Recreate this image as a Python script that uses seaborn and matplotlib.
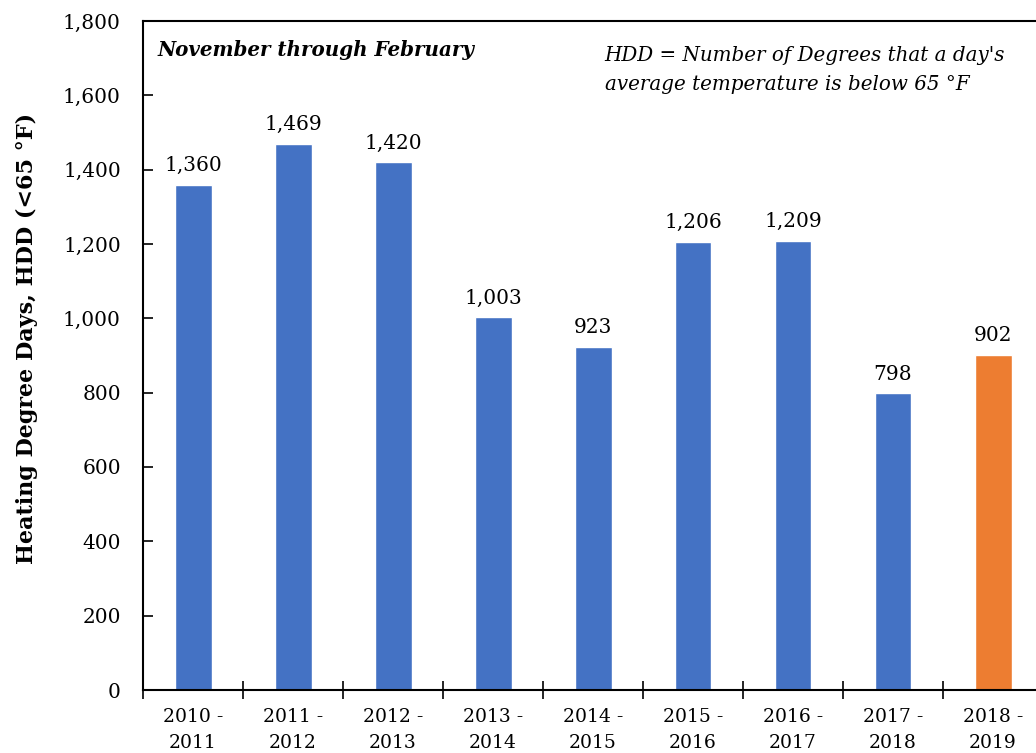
"""
heating degree days, Nov - Feb
"""
import matplotlib
matplotlib.use("Agg")
import matplotlib.pyplot as plt
import matplotlib.ticker as mticker
import seaborn as sns
import pandas as pd

# 資料
seasons = ["2010 -\n2011", "2011 -\n2012", "2012 -\n2013", "2013 -\n2014", "2014 -\n2015",
           "2015 -\n2016", "2016 -\n2017", "2017 -\n2018", "2018 -\n2019"]
hdd = [1360, 1469, 1420, 1003, 923, 1206, 1209, 798, 902]
bar_colors = ["#4472C4"] * 8 + ["#ED7D31"]

sns.set_theme(style="white")
plt.rcParams["font.family"] = ["DejaVu Serif"]
plt.rcParams["text.color"] = "black"

df = pd.DataFrame({"season": seasons, "hdd": hdd})

fig = plt.figure(figsize=(10.36, 7.53), dpi=100)
ax = fig.add_axes([143 / 1036, 1 - 690 / 753, 900 / 1036, 669 / 753])

sns.barplot(data=df, x="season", y="hdd", hue="season", palette=bar_colors,
            width=0.37, legend=False, ax=ax, saturation=1)

for c in ax.containers:
    ax.bar_label(c, fmt="{:,.0f}", padding=7, fontsize=14.5, color="black")

ax.set_xlim(-0.5, 8.5)
ax.set_ylim(0, 1800)
ax.yaxis.set_major_locator(mticker.MultipleLocator(200))
ax.yaxis.set_major_formatter(mticker.StrMethodFormatter("{x:,.0f}"))
ax.tick_params(axis="y", direction="in", length=7, width=1.2, labelsize=14.5,
               left=True, pad=16, colors="black")
ax.tick_params(axis="x", which="major", length=0, labelsize=13.5, pad=13, colors="black")
for lab in ax.get_xticklabels():
    lab.set_linespacing(1.55)
ax.set_xticks([i + 0.5 for i in range(-1, 9)], minor=True)
ax.tick_params(axis="x", which="minor", direction="inout", length=13, width=1.2,
               bottom=True, colors="black")

for s in ax.spines.values():
    s.set_color("black")
    s.set_linewidth(1.5)

ax.set_xlabel("")
ax.set_ylabel("Heating Degree Days, HDD (<65 °F)", fontsize=16, fontweight="bold",
              color="black")
ax.yaxis.set_label_coords(-0.117, 0.526)

ax.text(0.016, 0.971, "November through February", transform=ax.transAxes,
        fontsize=14.3, fontweight="bold", fontstyle="italic", va="top", ha="left",
        color="black")
ax.text(0.513, 0.962, "HDD = Number of Degrees that a day's\naverage temperature is below 65 °F",
        transform=ax.transAxes, fontsize=14.3, fontstyle="italic", va="top", ha="left",
        linespacing=1.65, color="black")

fig.savefig("out.png", dpi=100)
